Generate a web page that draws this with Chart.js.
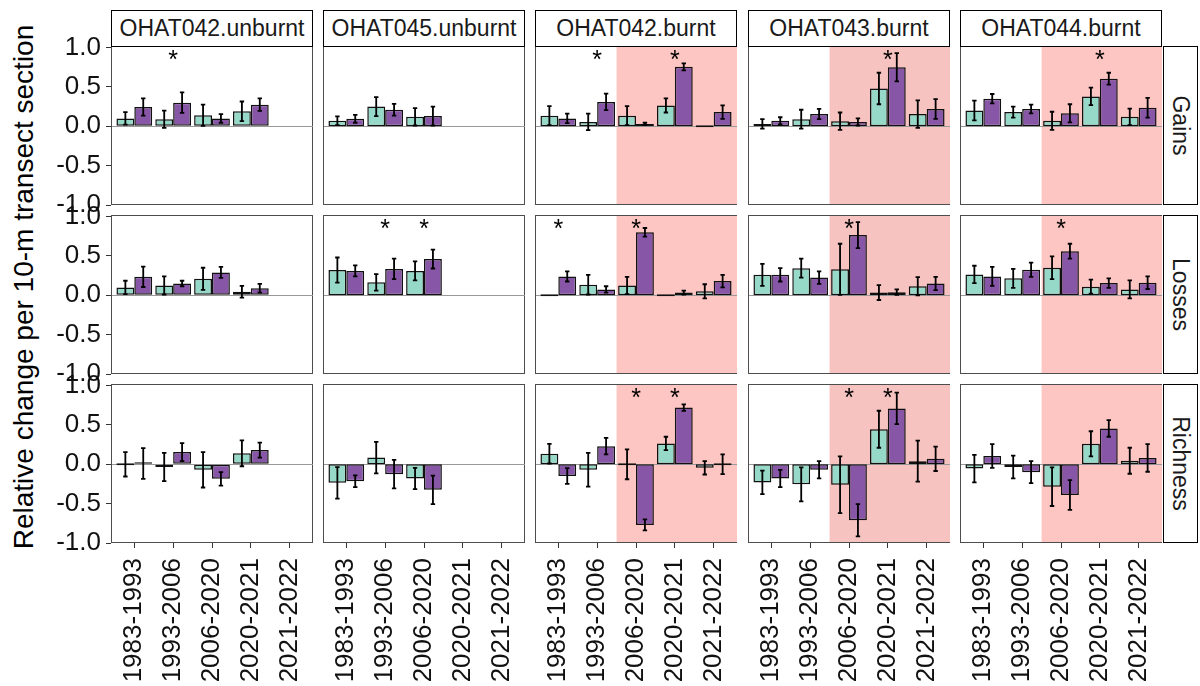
<!DOCTYPE html>
<html>
<head>
<meta charset="utf-8">
<title>Relative change per transect section</title>
<script src="https://cdn.jsdelivr.net/npm/chart.js@4.4.1/dist/chart.umd.min.js"></script>
<style>
  body { margin: 0; width: 1200px; height: 686px; position: relative; overflow: hidden; background: #fff;
         font-family: "Liberation Sans", Arial, sans-serif; }
  canvas { position: absolute; }
  .strip { position: absolute; box-sizing: border-box; border: 1.5px solid #000; background: #fff; color: #1a1a1a;
           font-size: 23px; display: flex; align-items: center; justify-content: center; white-space: nowrap; }
  .strip.right span { transform: rotate(90deg); }
  #ytitle { position: absolute; width: 600px; height: 30px; line-height: 30px; text-align: center; font-size: 28px;
            color: #000; transform: rotate(-90deg); white-space: nowrap; }
</style>
</head>
<body>
<div id="ytitle">Relative change per 10-m transect section</div>
<script>
// categories
const periods = ["1983-1993", "1993-2006", "2006-2020", "2020-2021", "2021-2022"];
const sites = ["OHAT042.unburnt", "OHAT045.unburnt", "OHAT042.burnt", "OHAT043.burnt", "OHAT044.burnt"];
const metrics = ["Gains", "Losses", "Richness"];
const seriesNames = ["Group 1", "Group 2"];
const burntSite = [false, false, true, true, true];

// one row per site, one value per period (null = no data)
const gainsA = [
  [0.10, 0.09, 0.14, 0.19, null],
  [0.07, 0.25, 0.12, null, null],
  [0.135, 0.055, 0.135, 0.265, 0],
  [0.03, 0.09, 0.065, 0.48, 0.155],
  [0.20, 0.18, 0.07, 0.38, 0.12]
];
const gainsAErr = [
  [0.08, 0.11, 0.135, 0.125, null],
  [0.055, 0.12, 0.11, null, null],
  [0.12, 0.105, 0.12, 0.09, 0],
  [0.06, 0.12, 0.11, 0.20, 0.175],
  [0.125, 0.07, 0.115, 0.11, 0.105]
];
const gainsB = [
  [0.245, 0.30, 0.10, 0.275, null],
  [0.095, 0.21, 0.13, null, null],
  [0.10, 0.31, 0.03, 0.755, 0.18],
  [0.07, 0.155, 0.055, 0.75, 0.22],
  [0.35, 0.22, 0.165, 0.605, 0.235]
];
const gainsBErr = [
  [0.11, 0.13, 0.055, 0.08, null],
  [0.05, 0.075, 0.12, null, null],
  [0.06, 0.105, 0.015, 0.045, 0.085],
  [0.045, 0.065, 0.045, 0.18, 0.125],
  [0.06, 0.055, 0.115, 0.075, 0.125]
];
const gainsStars = [[1], [], [1, 3], [3], [3]];

const lossesA = [
  [0.10, 0.125, 0.21, 0.045, null],
  [0.32, 0.165, 0.31, null, null],
  [0, 0.135, 0.125, 0, 0.05],
  [0.26, 0.345, 0.33, 0.035, 0.115],
  [0.265, 0.215, 0.35, 0.11, 0.075]
];
const lossesAErr = [
  [0.085, 0.115, 0.14, 0.075, null],
  [0.16, 0.105, 0.12, null, null],
  [0, 0.125, 0.11, 0, 0.09],
  [0.14, 0.12, 0.325, 0.095, 0.115],
  [0.11, 0.12, 0.145, 0.09, 0.115]
];
const lossesB = [
  [0.235, 0.15, 0.29, 0.09, null],
  [0.31, 0.335, 0.46, null, null],
  [0.24, 0.075, 0.80, 0.035, 0.18],
  [0.26, 0.225, 0.765, 0.04, 0.15],
  [0.24, 0.325, 0.56, 0.155, 0.16]
];
const lossesBErr = [
  [0.13, 0.035, 0.07, 0.055, null],
  [0.07, 0.13, 0.12, null, null],
  [0.065, 0.04, 0.055, 0.025, 0.08],
  [0.085, 0.08, 0.165, 0.035, 0.085],
  [0.12, 0.09, 0.095, 0.06, 0.08]
];
const lossesStars = [[], [1, 2], [0, 2], [2], [2]];

const richnessA = [
  [0, -0.035, -0.07, 0.14, null],
  [-0.235, 0.085, -0.18, null, null],
  [0.135, -0.07, 0, 0.265, -0.045],
  [-0.23, -0.255, -0.26, 0.445, 0.04],
  [-0.055, -0.035, -0.285, 0.26, 0.045]
];
const richnessAErr = [
  [0.155, 0.18, 0.225, 0.165, null],
  [0.20, 0.20, 0.135, null, null],
  [0.125, 0.215, 0.19, 0.085, 0.085],
  [0.15, 0.215, 0.36, 0.235, 0.26],
  [0.175, 0.145, 0.245, 0.16, 0.165]
];
const richnessB = [
  [0.01, 0.155, -0.185, 0.18, null],
  [-0.215, -0.125, -0.325, null, null],
  [-0.15, 0.23, -0.77, 0.72, 0],
  [-0.18, -0.07, -0.71, 0.71, 0.07],
  [0.105, -0.10, -0.39, 0.455, 0.08]
];
const richnessBErr = [
  [0.195, 0.115, 0.085, 0.095, null],
  [0.075, 0.18, 0.18, null, null],
  [0.10, 0.105, 0.07, 0.042, 0.125],
  [0.11, 0.11, 0.205, 0.2, 0.155],
  [0.15, 0.14, 0.19, 0.105, 0.175]
];
const richnessStars = [[], [], [2, 3], [2, 3], []];

const yTicks = [-1, -0.5, 0, 0.5, 1];

const table = {
  Gains: [gainsA, gainsAErr, gainsB, gainsBErr, gainsStars],
  Losses: [lossesA, lossesAErr, lossesB, lossesBErr, lossesStars],
  Richness: [richnessA, richnessAErr, richnessB, richnessBErr, richnessStars]
};

// layout
const PANEL_W = 202, PANEL_H = 159;
const colX = [111, 323, 535, 748, 960];
const rowY = [46, 215, 384];
const FONT = '"Liberation Sans", Arial, sans-serif';
const shadeColors = [null, null, "#fdc6c2", "#f6c3c1", "#fdc6c2"];

Chart.defaults.font.family = FONT;

const yt = document.getElementById('ytitle');
yt.style.left = (24 - 300) + 'px';
yt.style.top = (287 - 15) + 'px';

function toPoints(vals, errs) {
  const pts = [];
  vals.forEach((v, i) => { if (v !== null) pts.push({ x: i + 1, y: v, e: errs[i] }); });
  return pts;
}

const panelPlugin = {
  id: 'panel',
  beforeDatasetsDraw(chart, args, o) {
    const { ctx, chartArea: a, scales: { x, y } } = chart;
    ctx.save();
    ctx.strokeStyle = '#4d4d4d';
    ctx.lineWidth = 1;
    ctx.strokeRect(a.left + 0.5, a.top + 0.5, a.width - 1, a.height - 1);
    if (o.shade) {
      const x0 = x.getPixelForValue(2.5);
      ctx.fillStyle = o.shade;
      ctx.fillRect(x0, a.top + 1, a.right - x0, a.height - 2);
    }
    const y0 = Math.round(y.getPixelForValue(0)) + 0.5;
    ctx.strokeStyle = '#999';
    ctx.beginPath();
    ctx.moveTo(a.left + 1, y0);
    ctx.lineTo(a.right, y0);
    ctx.stroke();
    ctx.restore();
  },
  afterDatasetsDraw(chart, args, o) {
    const { ctx, scales: { x, y } } = chart;
    ctx.save();
    ctx.strokeStyle = '#000';
    ctx.lineWidth = 1.8;
    chart.data.datasets.forEach((ds, i) => {
      chart.getDatasetMeta(i).data.forEach((bar, j) => {
        const d = ds.data[j];
        if (!d.e) return;
        const top = y.getPixelForValue(d.y + d.e), bot = y.getPixelForValue(d.y - d.e);
        ctx.beginPath();
        ctx.moveTo(bar.x, top); ctx.lineTo(bar.x, bot);
        ctx.moveTo(bar.x - 2.2, top); ctx.lineTo(bar.x + 2.2, top);
        ctx.moveTo(bar.x - 2.2, bot); ctx.lineTo(bar.x + 2.2, bot);
        ctx.stroke();
      });
    });
    ctx.fillStyle = '#000';
    ctx.font = '25px ' + FONT;
    ctx.textAlign = 'center';
    ctx.textBaseline = 'alphabetic';
    o.stars.forEach(k => ctx.fillText('*', x.getPixelForValue(k + 1), y.getPixelForValue(0.93) + 14.5));
    ctx.restore();
  }
};

metrics.forEach((m, r) => {
  const [valsA, errsA, valsB, errsB, stars] = table[m];
  sites.forEach((s, c) => {
    const showX = r === 2, showY = c === 0;
    const padL = showY ? 62 : 2;
    const padB = showX ? 143 : 14;
    const cv = document.createElement('canvas');
    cv.width = padL + PANEL_W + 2;
    cv.height = 14 + PANEL_H + padB;
    cv.style.left = (colX[c] - padL) + 'px';
    cv.style.top = (rowY[r] - 14) + 'px';
    document.body.appendChild(cv);

    new Chart(cv, {
      type: 'bar',
      data: {
        datasets: [
          { label: seriesNames[0], data: toPoints(valsA[c], errsA[c]), backgroundColor: '#96d9c8' },
          { label: seriesNames[1], data: toPoints(valsB[c], errsB[c]), backgroundColor: '#8856a7' }
        ]
      },
      options: {
        responsive: false,
        animation: false,
        devicePixelRatio: 1,
        layout: { padding: { left: showY ? 0 : 2, right: 2, top: 14, bottom: showX ? 0 : 14 } },
        datasets: {
          bar: {
            borderColor: '#111', borderWidth: 1.5, borderSkipped: false,
            categoryPercentage: 0.92, barPercentage: 1, minBarLength: 2
          }
        },
        scales: {
          x: {
            type: 'linear', min: 0.4, max: 5.6, bounds: 'data', offset: false,
            display: showX,
            afterBuildTicks: sc => { sc.ticks = periods.map((p, i) => ({ value: i + 1 })); },
            afterFit: sc => { if (showX) { sc.height = 143; } sc.paddingLeft = 0; sc.paddingRight = 0; },
            ticks: {
              callback: v => periods[v - 1], autoSkip: false, minRotation: 90, maxRotation: 90,
              font: { size: 26 }, color: '#111', padding: 10
            },
            grid: { drawOnChartArea: false, offset: false, tickLength: 5, color: '#333' },
            border: { display: false }
          },
          y: {
            type: 'linear', min: -1, max: 1.02,
            display: showY,
            afterBuildTicks: sc => { sc.ticks = yTicks.map(v => ({ value: v })); },
            afterFit: sc => { if (showY) { sc.width = 62; } sc.paddingTop = 0; sc.paddingBottom = 0; },
            ticks: { callback: v => v.toFixed(1), font: { size: 26 }, color: '#111', padding: 5 },
            grid: { drawOnChartArea: false, tickLength: 5, color: '#333' },
            border: { display: false }
          }
        },
        plugins: {
          legend: { display: false },
          tooltip: { enabled: false },
          panel: { shade: burntSite[c] ? shadeColors[c] : null, stars: stars[c] }
        }
      },
      plugins: [panelPlugin]
    });

    if (r === 0) {
      const st = document.createElement('div');
      st.className = 'strip';
      st.textContent = s;
      Object.assign(st.style, { left: colX[c] + 'px', top: '10px', width: PANEL_W + 'px', height: '37px' });
      document.body.appendChild(st);
    }
  });
  const rs = document.createElement('div');
  rs.className = 'strip right';
  rs.innerHTML = '<span>' + m + '</span>';
  Object.assign(rs.style, { left: '1163px', top: rowY[r] + 'px', width: '35px', height: PANEL_H + 'px' });
  document.body.appendChild(rs);
});
</script>
</body>
</html>
